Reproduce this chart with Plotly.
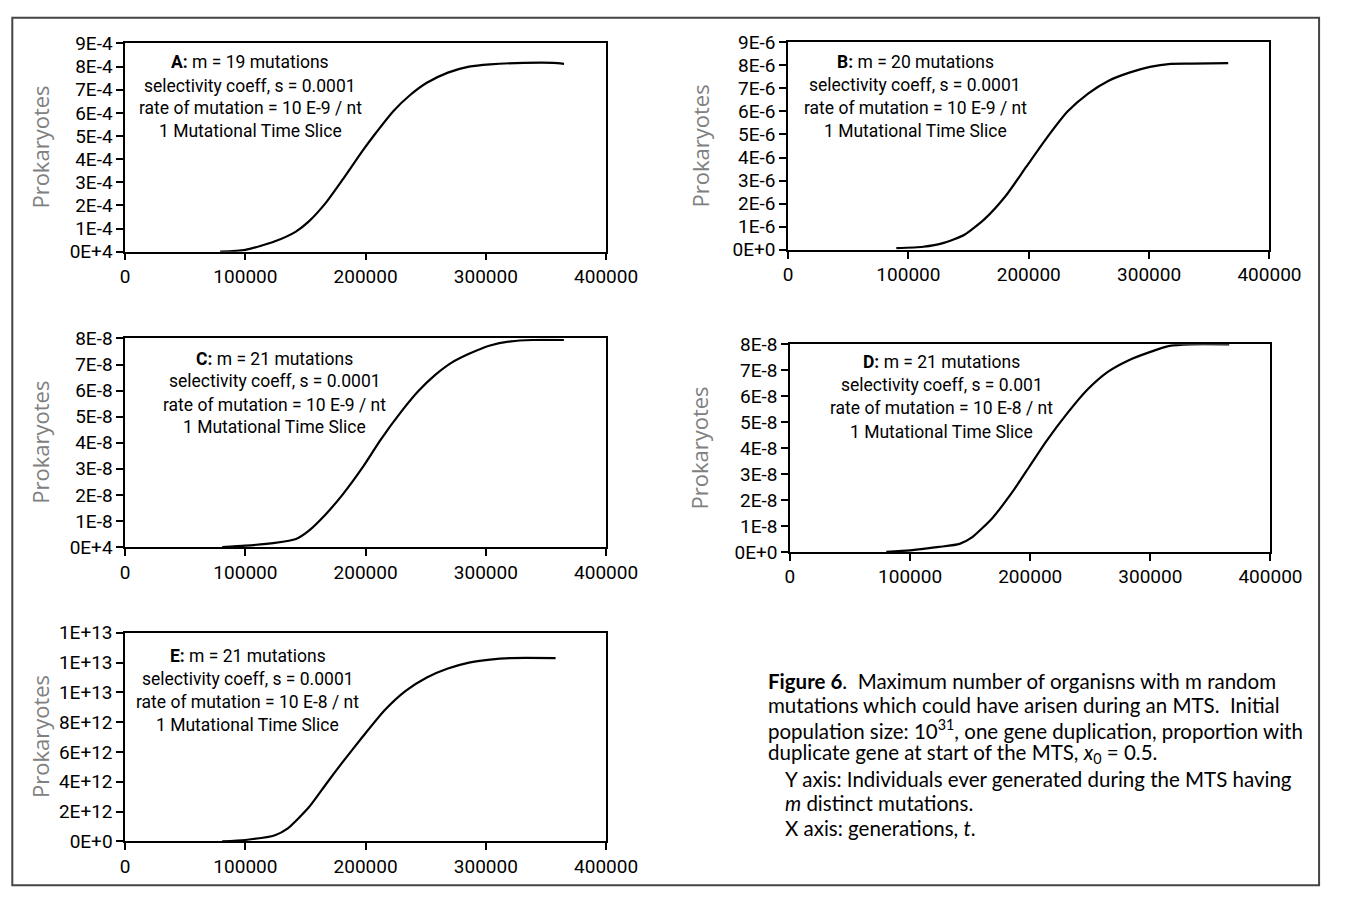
import plotly.graph_objects as go

W, H = 1354, 904

# ---------------- data ----------------
xA = [79000, 100000, 124600, 142000, 152600, 166700, 180700, 198000, 208800, 222800,
      236800, 250900, 268400, 286000, 303500, 331600, 356000, 365000]
yA = [0.0, 0.08e-4, 0.45e-4, 0.87e-4, 1.3e-4, 2.1e-4, 3.1e-4, 4.4e-4, 5.15e-4, 6.06e-4,
      6.76e-4, 7.3e-4, 7.74e-4, 8.0e-4, 8.1e-4, 8.16e-4, 8.16e-4, 8.12e-4]

xB = [90000, 112300, 129400, 146600, 163700, 180800, 198000, 215000, 232200, 249300,
      266400, 283600, 300700, 317800, 335000, 365700]
yB = [0.07e-6, 0.13e-6, 0.3e-6, 0.65e-6, 1.35e-6, 2.33e-6, 3.6e-6, 4.85e-6, 5.99e-6, 6.77e-6,
      7.33e-6, 7.68e-6, 7.93e-6, 8.06e-6, 8.07e-6, 8.09e-6]

xC = [80700, 100000, 124600, 142100, 152600, 166700, 180700, 198200, 212300, 229800,
      243900, 257900, 271900, 286000, 303500, 321000, 338600, 364900]
yC = [0.0, 0.05e-8, 0.16e-8, 0.31e-8, 0.62e-8, 1.25e-8, 2.0e-8, 3.1e-8, 4.1e-8, 5.2e-8,
      5.98e-8, 6.6e-8, 7.08e-8, 7.41e-8, 7.73e-8, 7.89e-8, 7.94e-8, 7.94e-8]

xD = [80200, 100100, 124100, 141200, 151500, 168600, 185800, 199500, 213200, 230300,
      247500, 264600, 281700, 298900, 316000, 333200, 365700]
yD = [0.0, 0.06e-8, 0.19e-8, 0.31e-8, 0.56e-8, 1.31e-8, 2.35e-8, 3.3e-8, 4.25e-8, 5.31e-8,
      6.25e-8, 6.94e-8, 7.38e-8, 7.69e-8, 7.94e-8, 8.0e-8, 8.0e-8]

xE = [80700, 100000, 124600, 135000, 152600, 166700, 180700, 198000, 215800, 233300,
      250900, 268400, 286000, 303500, 321000, 358000]
yE = [0.0, 0.09e12, 0.41e12, 0.85e12, 2.27e12, 3.8e12, 5.3e12, 7.07e12, 8.8e12, 10.1e12,
      11.0e12, 11.6e12, 12.0e12, 12.2e12, 12.3e12, 12.3e12]

x_ticks = [0, 100000, 200000, 300000, 400000]
x_ticklabels = ["0", "100000", "200000", "300000", "400000"]

yA_ticks = [i * 1e-4 for i in range(10)]
yA_labels = ["0E+4", "1E-4", "2E-4", "3E-4", "4E-4", "5E-4", "6E-4", "7E-4", "8E-4", "9E-4"]
yB_ticks = [i * 1e-6 for i in range(10)]
yB_labels = ["0E+0", "1E-6", "2E-6", "3E-6", "4E-6", "5E-6", "6E-6", "7E-6", "8E-6", "9E-6"]
yC_ticks = [i * 1e-8 for i in range(9)]
yC_labels = ["0E+4", "1E-8", "2E-8", "3E-8", "4E-8", "5E-8", "6E-8", "7E-8", "8E-8"]
yD_ticks = [i * 1e-8 for i in range(9)]
yD_labels = ["0E+0", "1E-8", "2E-8", "3E-8", "4E-8", "5E-8", "6E-8", "7E-8", "8E-8"]
yE_ticks = [i * 2e12 for i in range(8)]
yE_labels = ["0E+0", "2E+12", "4E+12", "6E+12", "8E+12", "1E+13", "1E+13", "1E+13"]

notes = {
    "A": ["<b>A:</b> m = 19 mutations", "selectivity coeff, s = 0.0001",
          "rate of mutation = 10 E-9 / nt", "1 Mutational Time Slice"],
    "B": ["<b>B:</b> m = 20 mutations", "selectivity coeff, s = 0.0001",
          "rate of mutation = 10 E-9 / nt", "1 Mutational Time Slice"],
    "C": ["<b>C:</b> m = 21 mutations", "selectivity coeff, s = 0.0001",
          "rate of mutation = 10 E-9 / nt", "1 Mutational Time Slice"],
    "D": ["<b>D:</b> m = 21 mutations", "selectivity coeff, s = 0.001",
          "rate of mutation = 10 E-8 / nt", "1 Mutational Time Slice"],
    "E": ["<b>E:</b> m = 21 mutations", "selectivity coeff, s = 0.0001",
          "rate of mutation = 10 E-8 / nt", "1 Mutational Time Slice"],
}

caption = [
    "<b>Figure 6</b>.  Maximum number of organisns with m random",
    "mutations which could have arisen during an MTS.  Initial",
    "population size: 10<sup>31</sup>, one gene duplication, proportion with",
    "duplicate gene at start of the MTS, <i>x</i><sub>0</sub> = 0.5.",
    "Y axis: Individuals ever generated during the MTS having",
    "<i>m</i> distinct mutations.",
    "X axis: generations, <i>t</i>.",
]

# ---------------- layout geometry (pixels of the page) ----------------
panels = [
    # key, xdata, ydata, yticks, ylabels, ymax, left, right, top, bottom, note_cx, note_ys, title_x
    ("A", xA, yA, yA_ticks, yA_labels, 9e-4, 123.5, 618, 33.3, 247, 252, [52.7, 76.7, 100, 123.3], 36),
    ("B", xB, yB, yB_ticks, yB_labels, 9e-6, 805, 1300, 32, 245, 936, [52.3, 76, 100, 123.3], 714),
    ("C", xC, yC, yC_ticks, yC_labels, 8e-8, 123.5, 618, 336, 550, 277.5, [356.7, 380, 404, 427.3], 36),
    ("D", xD, yD, yD_ticks, yD_labels, 8e-8, 807, 1301, 342, 555, 963, [360, 384, 407.7, 431.7], 714),
    ("E", xE, yE, yE_ticks, yE_labels, 14e12, 123.5, 618, 638, 852, 249.5, [661.7, 685, 709.3, 732.7], 36),
]

TICKFONT = dict(family="Roboto, sans-serif", size=19, color="black")
NOTEFONT = dict(family="Roboto, sans-serif", size=17.5, color="black")

fig = go.Figure()
annotations = []
layout = {}

for i, (key, xs, ys, yt, yl, ymax, l, r, t, b, ncx, nys, tx) in enumerate(panels):
    n = "" if i == 0 else str(i + 1)
    xa, ya = "xaxis" + n, "yaxis" + n
    fig.add_trace(go.Scatter(x=xs, y=ys, mode="lines",
                             line=dict(color="black", width=2.2, shape="spline", smoothing=0.6),
                             xaxis="x" + n, yaxis="y" + n,
                             showlegend=False, hoverinfo="skip"))
    layout[xa] = dict(domain=[l / W, r / W], anchor="y" + n, range=[0, 400000],
                      tickvals=x_ticks, ticktext=x_ticklabels, ticks="outside", ticklen=7,
                      tickcolor="black", tickwidth=1.5, showline=True, linecolor="black",
                      linewidth=1.5, mirror=True, showgrid=False, zeroline=False,
                      tickfont=TICKFONT, fixedrange=True)
    layout[ya] = dict(domain=[1 - b / H, 1 - t / H], anchor="x" + n, range=[0, ymax],
                      tickvals=yt, ticktext=yl, ticks="outside", ticklen=7,
                      tickcolor="black", tickwidth=1.5, showline=True, linecolor="black",
                      linewidth=1.5, mirror=True, showgrid=False, zeroline=False,
                      tickfont=TICKFONT, fixedrange=True)
    annotations.append(dict(text="Prokaryotes", xref="paper", yref="paper",
                            x=tx / W, y=1 - ((t + b) / 2) / H, textangle=-90,
                            showarrow=False, xanchor="center", yanchor="middle",
                            font=dict(family="Open Sans, Noto Sans, sans-serif", size=22,
                                      color="#808080")))
    for line, py in zip(notes[key], nys):
        annotations.append(dict(text=line, xref="paper", yref="paper", x=ncx / W,
                                y=1 - py / H, showarrow=False, xanchor="center",
                                yanchor="middle", font=NOTEFONT))

cap_x = [782, 782, 782, 782, 800, 800, 800]
cap_y = [687, 712, 737, 762, 788, 813, 838]
for txt, px, py in zip(caption, cap_x, cap_y):
    annotations.append(dict(text=txt, xref="paper", yref="paper", x=px / W, y=1 - py / H,
                            showarrow=False, xanchor="left", yanchor="middle",
                            font=dict(family="Lato, Noto Sans, sans-serif", size=20.5,
                                      color="black")))

fig.update_layout(
    width=W, height=H, margin=dict(l=0, r=0, t=0, b=0),
    paper_bgcolor="white", plot_bgcolor="white",
    annotations=annotations,
    shapes=[dict(type="rect", xref="paper", yref="paper", x0=7.5 / W, x1=1351 / W,
                 y0=1 - 897 / H, y1=1 - 7 / H, line=dict(color="#444444", width=2))],
    **layout,
)

fig.write_html("out.html", config={"displayModeBar": False},
               post_script="document.body.style.margin='0';")
